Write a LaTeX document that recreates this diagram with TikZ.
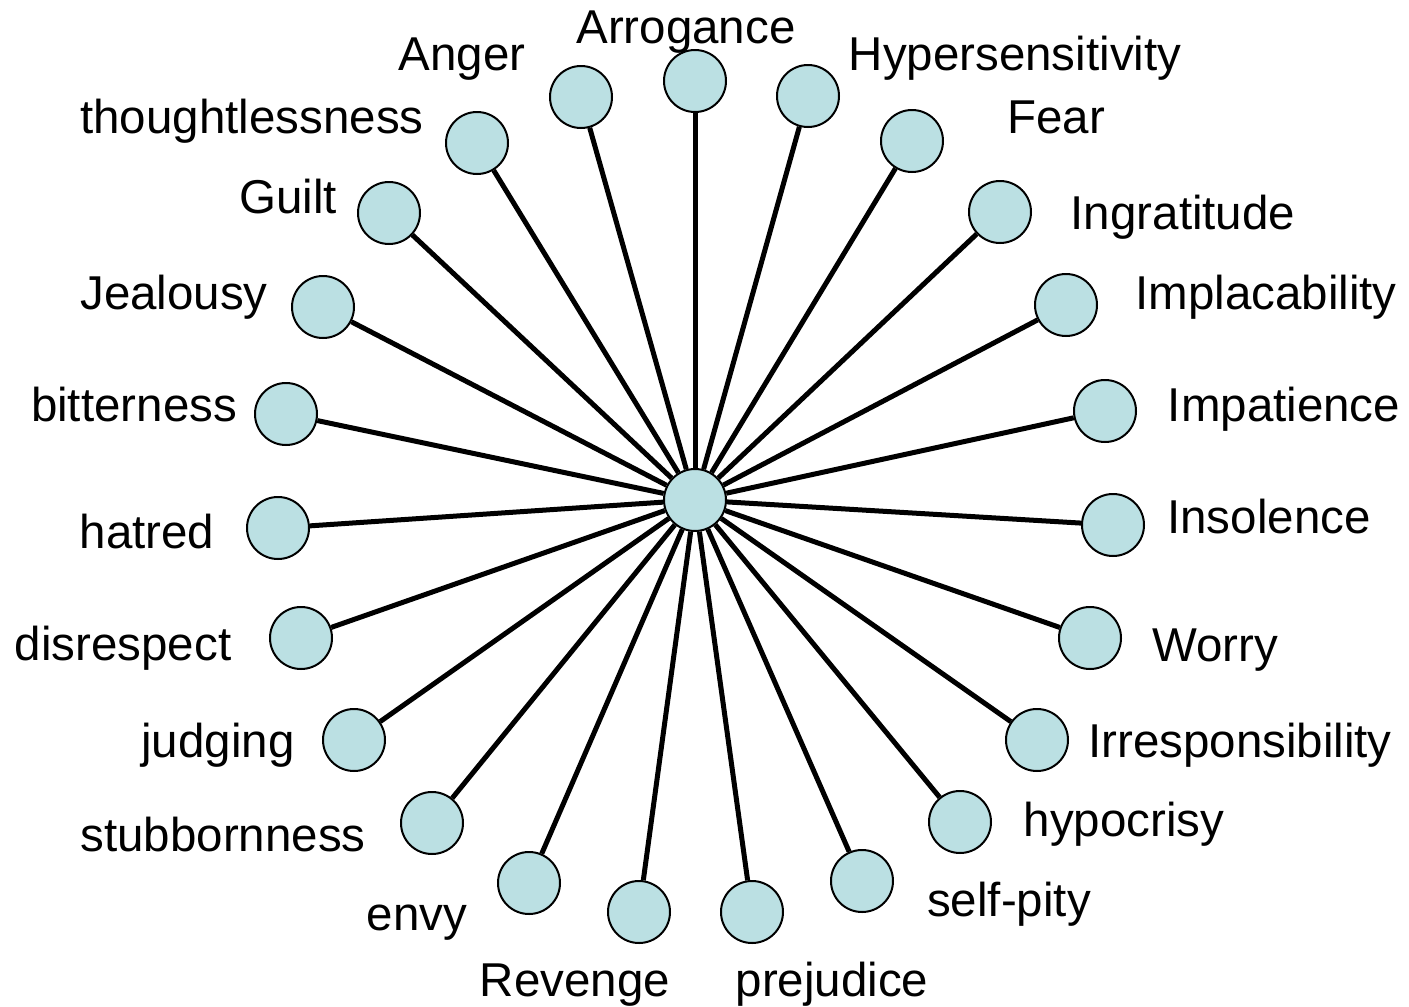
\documentclass[tikz,border=0pt]{standalone}
\usepackage{fontspec}
\setmainfont{Liberation Sans}
\definecolor{bubble}{HTML}{BBE0E3}

\begin{document}
\begin{tikzpicture}[x=.5pt,y=-.5pt,line width=1pt,
  bub/.style={circle,draw,fill=bubble,minimum size=31pt,inner sep=0pt},
  lab/.style={anchor=base,inner sep=0pt,font=\fontsize{23.75}{28}\selectfont}]
\useasboundingbox (0,0) rectangle (1409,1007);
\node[bub] (hub) at (695,500) {};
% bubbles, clockwise from the top
\node[bub] (arrogance) at (695,81) {};
\node[bub] (hyper) at (808,96) {};
\node[bub] (fear) at (912,141) {};
\node[bub] (ingrat) at (1000,212) {};
\node[bub] (implac) at (1066,305) {};
\node[bub] (impat) at (1105,411) {};
\node[bub] (insol) at (1113,525) {};
\node[bub] (worry) at (1090,638) {};
\node[bub] (irresp) at (1037,740) {};
\node[bub] (hypoc) at (960,822) {};
\node[bub] (selfpity) at (862,881) {};
\node[bub] (prejud) at (752,912) {};
\node[bub] (revenge) at (639,912) {};
\node[bub] (envy) at (529,883) {};
\node[bub] (stubb) at (432,823) {};
\node[bub] (judging) at (354,740) {};
\node[bub] (disresp) at (301,638) {};
\node[bub] (hatred) at (278,528) {};
\node[bub] (bitter) at (286,414) {};
\node[bub] (jealous) at (323,307) {};
\node[bub] (guilt) at (389,213) {};
\node[bub] (thought) at (477,143) {};
\node[bub] (anger) at (581,97) {};
% spokes
\foreach \n in {arrogance,hyper,fear,ingrat,implac,impat,insol,worry,irresp,hypoc,
  selfpity,prejud,revenge,envy,stubb,judging,disresp,hatred,bitter,jealous,guilt,thought,anger}
  \draw[line width=2.5pt] (\n) -- (hub);
% labels
\node[lab] (lArrogance) at (686,43) {Arrogance};
\node[lab] (lHyper) at (1015,70) {Hypersensitivity};
\node[lab] (lFear) at (1056,133) {Fear};
\node[lab] (lIngrat) at (1183,229) {Ingratitude};
\node[lab] (lImplac) at (1266,309) {Implacability};
\node[lab] (lImpat) at (1284,421) {Impatience};
\node[lab] (lInsol) at (1269,533) {Insolence};
\node[lab] (lWorry) at (1215,661) {Worry};
\node[lab] (lIrresp) at (1240,757) {Irresponsibility};
\node[lab] (lHypoc) at (1124,836) {hypocrisy};
\node[lab] (lSelfpity) at (1009,916) {self-pity};
\node[lab] (lPrejud) at (832,996) {prejudice};
\node[lab] (lRevenge) at (575,996) {Revenge};
\node[lab] (lEnvy) at (417,930) {envy};
\node[lab] (lStubb) at (223,851) {stubbornness};
\node[lab] (lJudging) at (218,757) {judging};
\node[lab] (lDisresp) at (123,660) {disrespect};
\node[lab] (lHatred) at (147,548) {hatred};
\node[lab] (lBitter) at (134,421) {bitterness};
\node[lab] (lJealous) at (174,309) {Jealousy};
\node[lab] (lGuilt) at (288,213) {Guilt};
\node[lab] (lThought) at (252,133) {thoughtlessness};
\node[lab] (lAnger) at (462,70) {Anger};
\end{tikzpicture}
\end{document}
